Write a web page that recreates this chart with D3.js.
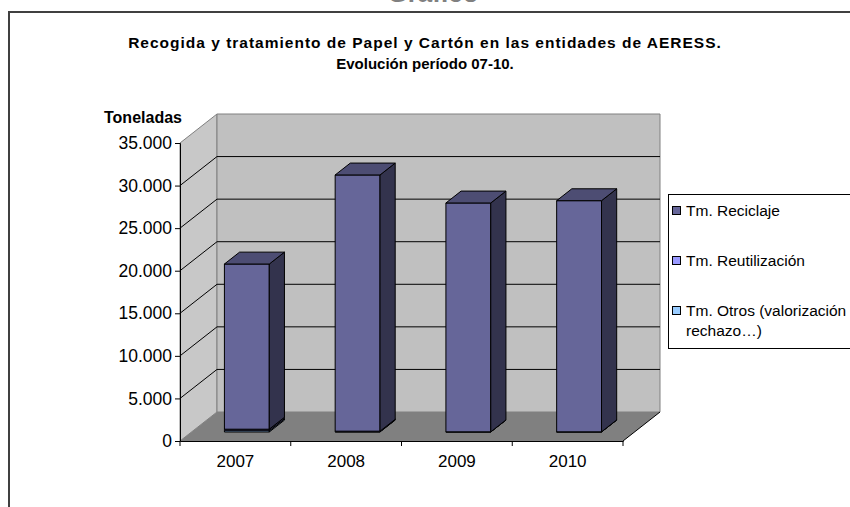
<!DOCTYPE html>
<html><head><meta charset="utf-8">
<script src="https://cdn.jsdelivr.net/npm/d3@7/dist/d3.min.js"></script>
<style>body{margin:0;background:#fff}svg{display:block}text{font-family:"Liberation Sans",Arial,sans-serif}</style>
</head><body>
<svg id="c" width="850" height="507"></svg>
<script>
const years = ["2007", "2008", "2009", "2010"];
const reciclaje = [19400, 30090, 26880, 27150];
const reutilizacion = [170, 60, 0, 0];
const otros = [160, 40, 20, 20];
const seriesNames = ["Tm. Reciclaje", "Tm. Reutilización", "Tm. Otros (valorización, rechazo…)"];
const seriesColors = ["#666699", "#9999ff", "#99ccff"];
const yTicks = [0, 5000, 10000, 15000, 20000, 25000, 30000, 35000];
const titleLines = ["Recogida y tratamiento de Papel y Cartón en las entidades de AERESS.", "Evolución período 07-10."];

const svg = d3.select("#c");
const rows = years.map((y, i) => ({year: y, reciclaje: reciclaje[i], reutilizacion: reutilizacion[i], otros: otros[i]}));
const keys = ["otros", "reutilizacion", "reciclaje"];
const colorOf = {reciclaje: seriesColors[0], reutilizacion: seriesColors[1], otros: seriesColors[2]};
const stacked = d3.stack().keys(keys)(rows);

const y = d3.scaleLinear().domain([0, 35000]).range([441, 143]);
const x = d3.scaleBand().domain(years).range([180, 623]);
const DX = 37, DY = -29;
const P = (px, v, d) => [px + d * DX, y(v) + d * DY];
const poly = pts => "M" + pts.map(p => p.join(",")).join("L") + "Z";
const fmt = v => d3.format(",")(v).replace(/,/g, ".");

// top cut-off caption (cut off in the reference too)
svg.append("text").attr("x", 433).attr("y", 2).attr("text-anchor", "middle")
  .attr("font-size", 26).attr("font-weight", "bold").attr("fill", "#808080").text("Gráfico");

// frame
svg.append("path").attr("d", "M9,507V12H850").attr("fill", "none").attr("stroke", "#404040").attr("stroke-width", 2);

// title
titleLines.forEach((t, i) => svg.append("text").attr("x", 425).attr("y", 48 + i * 21)
  .attr("text-anchor", "middle").attr("font-size", i === 0 ? 15.5 : 15).attr("font-weight", "bold")
  .attr("letter-spacing", i === 0 ? 1.0 : 0).text(t));

const x0 = x.range()[0], x1 = x.range()[1];
const v0 = 0, vTop = y.domain()[1];
// side wall
svg.append("path").attr("d", poly([P(x0, v0, 0), P(x0, v0, 1), P(x0, vTop, 1), P(x0, vTop, 0)]))
  .attr("fill", "#c8c8c8").attr("stroke", "#808080");
// back wall
svg.append("path").attr("d", poly([P(x0, v0, 1), P(x1, v0, 1), P(x1, vTop, 1), P(x0, vTop, 1)]))
  .attr("fill", "#c0c0c0").attr("stroke", "#808080");
// floor
svg.append("path").attr("d", poly([P(x0, v0, 0), P(x0, v0, 1), P(x1, v0, 1), P(x1, v0, 0)]))
  .attr("fill", "#808080");
// gridlines
yTicks.filter(t => t > 0 && t < vTop).forEach(t => {
  svg.append("path").attr("d", "M" + P(x0, t, 0).join(",") + "L" + P(x0, t, 1).join(",") + "L" + P(x1, t, 1).join(","))
    .attr("fill", "none").attr("stroke", "#000").attr("stroke-width", 1);
});
// floor right edge
svg.append("path").attr("d", "M" + P(x1, 0, 0).join(",") + "L" + P(x1, 0, 1).join(","))
  .attr("stroke", "#000").attr("fill", "none");

// y axis
const yAxis = d3.axisLeft(y).tickValues(yTicks).tickFormat(fmt).tickSize(5).tickPadding(3);
const ga = svg.append("g").attr("transform", `translate(${x0},0)`).call(yAxis);
ga.select(".domain").attr("stroke", "#000");
ga.selectAll("text").attr("font-size", 17.5).attr("font-family", "Liberation Sans, Arial, sans-serif").attr("fill", "#000");

// x axis
const xAxis = d3.axisBottom(x).tickSize(0).tickPadding(14);
const gx = svg.append("g").attr("transform", `translate(0,${y(0)})`).call(xAxis);
gx.select(".domain").attr("stroke", "#000");
gx.selectAll("text").attr("font-size", 17).attr("font-family", "Liberation Sans, Arial, sans-serif").attr("fill", "#000");
years.concat([null]).forEach((yr) => {
  const px = yr ? x(yr) : x1;
  svg.append("line").attr("x1", px).attr("x2", px).attr("y1", y(0)).attr("y2", y(0) + 5).attr("stroke", "#000");
});

// bars
const bw = x.bandwidth() * 0.405;
const d0 = 0.31, d1 = 0.72;
const shade = (c, k) => { const h = d3.rgb(c); return d3.rgb(h.r * k, h.g * k, h.b * k).toString(); };
rows.forEach((r, i) => {
  const bx = x(r.year) + (x.bandwidth() - bw) / 2;
  stacked.forEach(s => {
    const [a, b] = s[i];
    if (b - a <= 0) return;
    const c = colorOf[s.key];
    const g = svg.append("g").attr("stroke", "#000").attr("stroke-width", 1).attr("stroke-linejoin", "round");
    g.append("path").attr("d", poly([P(bx, a, d0), P(bx + bw, a, d0), P(bx + bw, b, d0), P(bx, b, d0)])).attr("fill", c);
    g.append("path").attr("d", poly([P(bx + bw, a, d0), P(bx + bw, a, d1), P(bx + bw, b, d1), P(bx + bw, b, d0)])).attr("fill", shade(c, 0.5));
    g.append("path").attr("d", poly([P(bx, b, d0), P(bx + bw, b, d0), P(bx + bw, b, d1), P(bx, b, d1)])).attr("fill", shade(c, 0.75));
  });
});

// y title
svg.append("text").attr("x", 104).attr("y", 123).attr("font-size", 16).attr("font-weight", "bold").text("Toneladas");

// legend
const lg = svg.append("g");
lg.append("rect").attr("x", 668.5).attr("y", 194.5).attr("width", 200).attr("height", 154)
  .attr("fill", "#fff").attr("stroke", "#000");
const legendRows = [[seriesNames[0]], [seriesNames[1]], ["Tm. Otros (valorización", "rechazo…)"]];
legendRows.forEach((lines, i) => {
  const ly = 211 + i * 50;
  lg.append("rect").attr("x", 672.5).attr("y", ly - 4.5).attr("width", 8).attr("height", 8)
    .attr("fill", seriesColors[i]).attr("stroke", "#000");
  lines.forEach((t, j) => lg.append("text").attr("x", 686).attr("y", ly + 5 + j * 20)
    .attr("font-size", 15.5).text(t));
});
</script>
</body></html>
